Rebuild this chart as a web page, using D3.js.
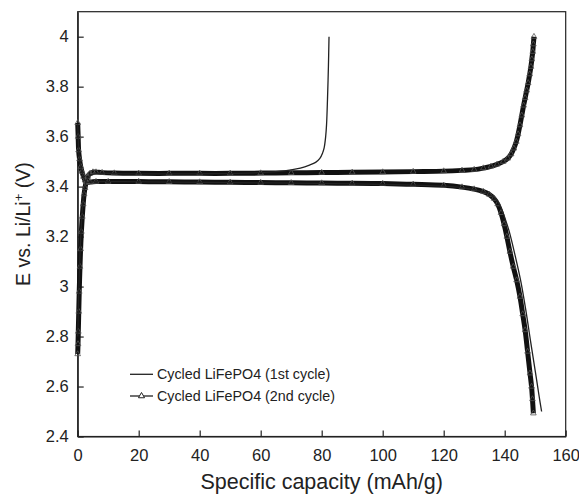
<!DOCTYPE html>
<html>
<head>
<meta charset="utf-8">
<script src="https://cdn.jsdelivr.net/npm/d3@7"></script>
<style>
  body { margin: 0; background: #fff; }
  svg { display: block; font-family: "Liberation Sans", Arial, Helvetica, sans-serif; }
</style>
</head>
<body>
<div id="root"></div>
<script>
// 1st cycle (thin line)
const cap1Charge = [0, 0.4, 1, 1.6, 2.3, 3.5, 6, 15, 30, 45, 60, 65, 70, 73, 76, 78, 79.4, 80.3, 80.8, 81.3, 81.6, 81.9, 82.2, 82.4]
const volt1Charge = [2.8, 3.0, 3.2, 3.32, 3.4, 3.44, 3.452, 3.451, 3.451, 3.452, 3.456, 3.46, 3.467, 3.474, 3.486, 3.497, 3.513, 3.535, 3.555, 3.6, 3.65, 3.75, 3.88, 4.0]
const cap1Dis = [0, 0.15, 0.3, 0.6, 1, 1.4, 1.9, 2.4, 3, 5, 15, 30, 50, 70, 90, 110, 120, 126, 130, 133.5, 136, 137.7, 139, 140.2, 141.5, 143.5, 145.3, 147, 148.5, 150.3, 151.3, 152.1]
const volt1Dis = [3.65, 3.6, 3.546, 3.51, 3.48, 3.46, 3.44, 3.425, 3.418, 3.42, 3.42, 3.418, 3.416, 3.414, 3.411, 3.406, 3.402, 3.396, 3.388, 3.377, 3.362, 3.34, 3.31, 3.27, 3.22, 3.12, 3.02, 2.9, 2.78, 2.64, 2.56, 2.5]

// 2nd cycle (line + triangles)
const cap2Charge = [0, 0.1, 0.2, 0.35, 0.5, 0.75, 0.95, 1.2, 1.5, 1.8, 2.1, 2.4, 2.8, 3.3, 4, 5, 6, 8, 12, 20, 30, 40, 50, 60, 70, 80, 90, 100, 110, 120, 126, 130, 133, 135.5, 137.5, 139.5, 141, 142.1, 143, 143.8, 144.4, 145, 145.6, 146.2, 146.7, 147.2, 147.7, 148.2, 148.6, 148.9, 149.2, 149.4, 149.6]
const volt2Charge = [2.73, 2.77, 2.82, 2.9, 2.98, 3.08, 3.15, 3.22, 3.28, 3.33, 3.37, 3.395, 3.42, 3.44, 3.452, 3.458, 3.458, 3.456, 3.454, 3.453, 3.453, 3.453, 3.453, 3.454, 3.455, 3.456, 3.457, 3.458, 3.46, 3.462, 3.465, 3.468, 3.474, 3.481, 3.489, 3.5, 3.513, 3.53, 3.553, 3.58, 3.61, 3.646, 3.685, 3.725, 3.755, 3.785, 3.815, 3.85, 3.88, 3.91, 3.94, 3.97, 4.0]
const cap2Dis = [0, 0.15, 0.3, 0.6, 1, 1.4, 1.9, 2.4, 3, 4, 6, 10, 20, 30, 40, 50, 60, 70, 80, 90, 100, 110, 120, 126, 130, 133, 135, 136.5, 137.7, 138.8, 139.8, 140.7, 141.7, 142.8, 143.9, 145, 145.9, 146.7, 147.5, 148.3, 148.8, 149.1, 149.4]
const volt2Dis = [3.655, 3.6, 3.546, 3.51, 3.48, 3.46, 3.44, 3.425, 3.416, 3.418, 3.42, 3.42, 3.42, 3.419, 3.418, 3.417, 3.416, 3.415, 3.414, 3.413, 3.412, 3.409, 3.405, 3.398, 3.39, 3.38, 3.368, 3.352, 3.33, 3.295, 3.25, 3.2, 3.14, 3.08, 3.026, 2.96, 2.89, 2.826, 2.74, 2.653, 2.6, 2.55, 2.493]

const xTicks = [0, 20, 40, 60, 80, 100, 120, 140, 160]
const yTicks = [2.4, 2.6, 2.8, 3, 3.2, 3.4, 3.6, 3.8, 4]
const legendLabels = ['Cycled LiFePO4 (1st cycle)', 'Cycled LiFePO4 (2nd cycle)']

const W = 579, H = 494
const margin = {top: 11.7, right: 13.3, bottom: 57.5, left: 77.7}
const w = W - margin.left - margin.right
const h = H - margin.top - margin.bottom

const svg = d3.select('#root').append('svg')
    .attr('width', W)
    .attr('height', H)

const g = svg.append('g').attr('transform', `translate(${margin.left},${margin.top})`)

const x = d3.scaleLinear().domain([0, 160]).range([0, w])
const y = d3.scaleLinear().domain([2.4, 4.1]).range([h, 0])

const zip = (a, b) => a.map((v, i) => [v, b[i]])
const lineX = d3.line().x(d => x(d[0])).y(d => y(d[1])).curve(d3.curveCatmullRom.alpha(0.5))

// frame
g.append('rect')
    .attr('width', w).attr('height', h)
    .attr('fill', 'none').attr('stroke', '#222').attr('stroke-width', 1.2)

// axes with inward ticks
const xAxis = g.append('g').attr('transform', `translate(0,${h})`)
    .call(d3.axisBottom(x).tickValues(xTicks).tickFormat(d3.format('d')).tickSizeInner(-6).tickSizeOuter(0).tickPadding(13))
const yAxis = g.append('g')
    .call(d3.axisLeft(y).tickValues(yTicks).tickFormat(d => d3.format('~g')(d)).tickSizeInner(-6).tickSizeOuter(0).tickPadding(9))
;[xAxis, yAxis].forEach(a => {
    a.select('.domain').attr('stroke', '#222').attr('stroke-width', 1.2)
    a.selectAll('.tick line').attr('stroke', '#222').attr('stroke-width', 1.2)
    a.selectAll('.tick text').attr('font-size', 16.5).attr('fill', '#222').attr('font-family', '"Liberation Sans", Arial, sans-serif')
})

const series2 = [zip(cap2Charge, volt2Charge), zip(cap2Dis, volt2Dis)]
const series1 = [zip(cap1Charge, volt1Charge), zip(cap1Dis, volt1Dis)]

// 2nd cycle: dense marker band
series2.forEach(s => {
    g.append('path').datum(s)
        .attr('d', lineX)
        .attr('fill', 'none').attr('stroke', '#111').attr('stroke-width', 5)
        .attr('stroke-linejoin', 'round')
})
const tri = d3.symbol().type(d3.symbolTriangle).size(14)
series2.forEach(s => {
    g.selectAll(null).data(s).enter().append('path')
        .attr('d', tri)
        .attr('transform', d => `translate(${x(d[0])},${y(d[1])})`)
        .attr('fill', 'none').attr('stroke', '#555').attr('stroke-width', 0.8)
})

// 1st cycle: thin line
series1.forEach(s => {
    g.append('path').datum(s)
        .attr('d', lineX)
        .attr('fill', 'none').attr('stroke', '#222').attr('stroke-width', 1.3)
})

// legend
const leg = g.append('g').attr('transform', `translate(${130 - margin.left},${374.3 - margin.top})`)
legendLabels.forEach((t, i) => {
    const r = leg.append('g').attr('transform', `translate(0,${i * 21.7})`)
    r.append('line').attr('x1', 0).attr('x2', 23).attr('y1', 0).attr('y2', 0)
        .attr('stroke', '#222').attr('stroke-width', 1.3)
    if (i === 1) {
        r.append('path').attr('d', d3.symbol().type(d3.symbolTriangle).size(16))
            .attr('transform', 'translate(11.5,0)')
            .attr('fill', '#fff').attr('stroke', '#222').attr('stroke-width', 1)
    }
    r.append('text').attr('x', 27).attr('dy', '0.36em')
        .attr('font-size', 14.3).attr('fill', '#222').text(t)
})

// axis titles
svg.append('text')
    .attr('x', margin.left + w / 2).attr('y', 489)
    .attr('text-anchor', 'middle').attr('font-size', 21.5).attr('fill', '#222')
    .text('Specific capacity (mAh/g)')

const yt = svg.append('text')
    .attr('transform', `translate(30,${margin.top + h / 2}) rotate(-90)`)
    .attr('text-anchor', 'middle').attr('font-size', 19.5).attr('fill', '#222')
yt.append('tspan').text('E vs. Li/Li')
yt.append('tspan').attr('dy', -7).attr('font-size', 13).text('+')
yt.append('tspan').attr('dy', 7).text(' (V)')
</script>
</body>
</html>
